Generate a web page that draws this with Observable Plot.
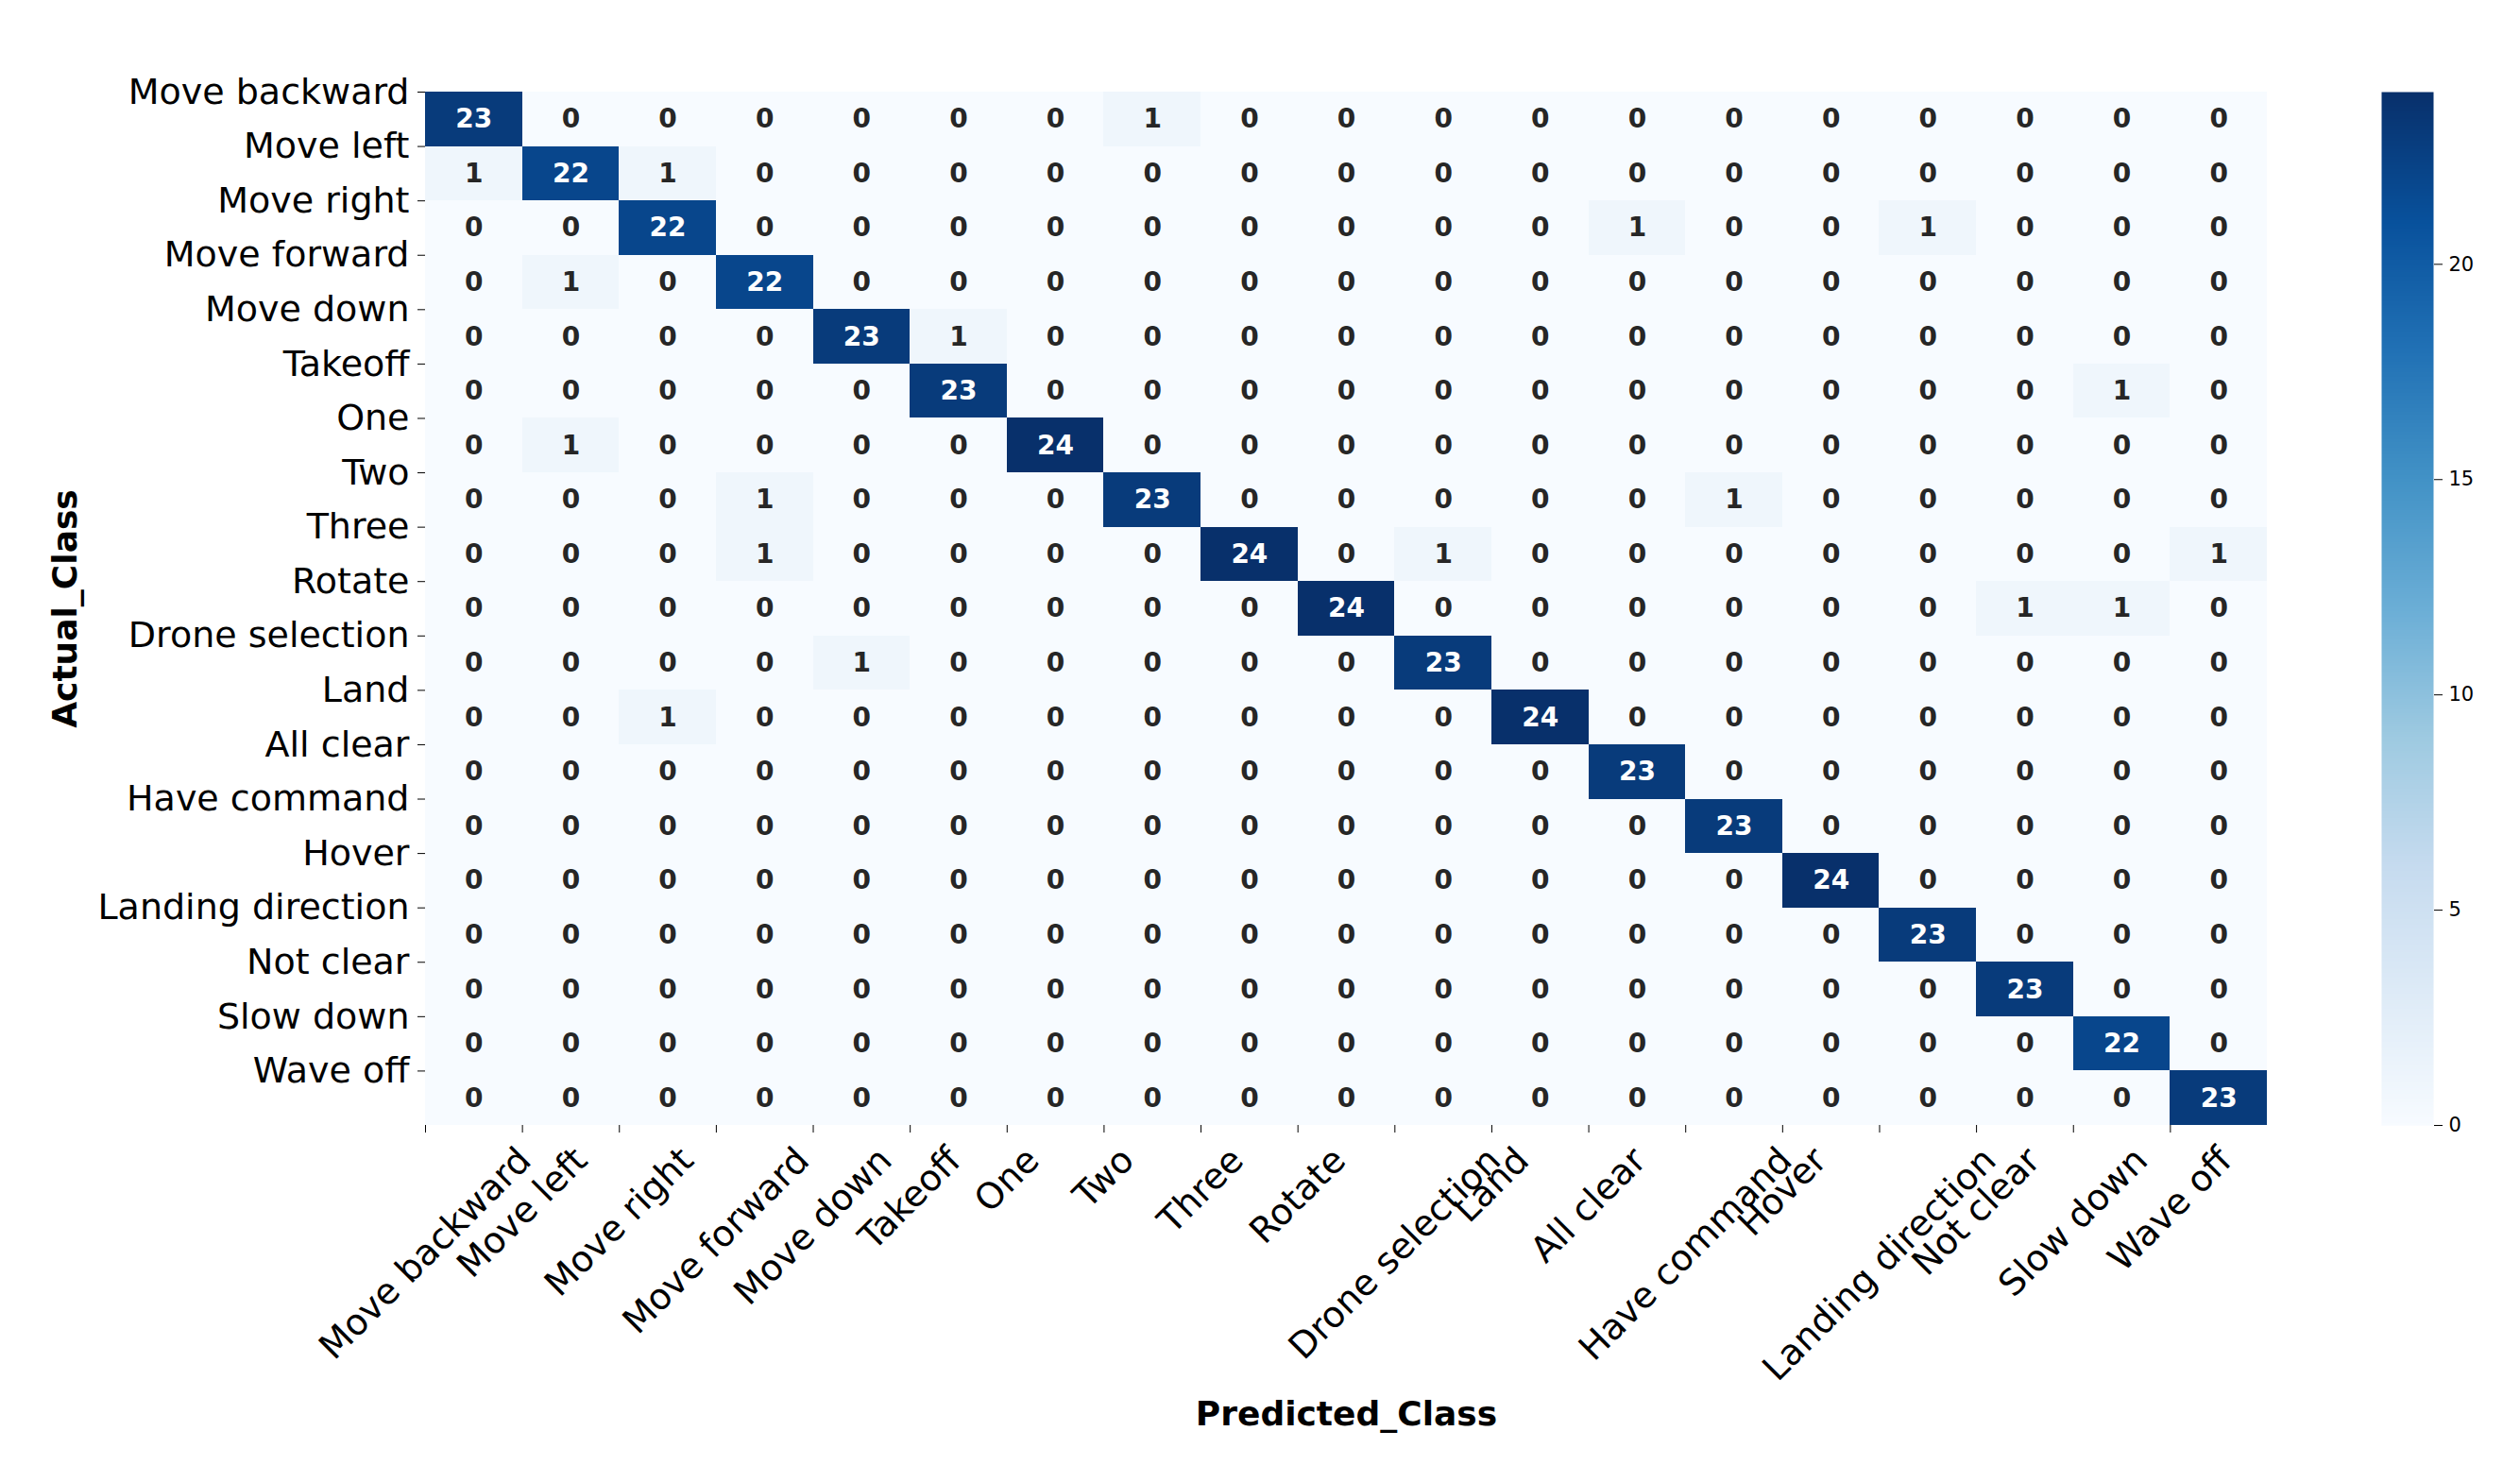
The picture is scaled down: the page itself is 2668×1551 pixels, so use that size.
<!DOCTYPE html>
<html><head><meta charset="utf-8">
<script src="https://cdn.jsdelivr.net/npm/d3@7"></script>
<script src="https://cdn.jsdelivr.net/npm/@observablehq/plot@0.6"></script>
<style>
body{margin:0;background:#fff;}
#wrap{position:relative;width:2668px;height:1551px;font-family:"DejaVu Sans";background:#fff;}
#wrap svg{position:absolute;top:0;}
</style>
</head><body><div id="wrap"></div>
<script>
const classes = ["Move backward","Move left","Move right","Move forward","Move down","Takeoff","One","Two","Three","Rotate","Drone selection","Land","All clear","Have command","Hover","Landing direction","Not clear","Slow down","Wave off"];

const matrix = [
  [23,0,0,0,0,0,0,1,0,0,0,0,0,0,0,0,0,0,0],
  [1,22,1,0,0,0,0,0,0,0,0,0,0,0,0,0,0,0,0],
  [0,0,22,0,0,0,0,0,0,0,0,0,1,0,0,1,0,0,0],
  [0,1,0,22,0,0,0,0,0,0,0,0,0,0,0,0,0,0,0],
  [0,0,0,0,23,1,0,0,0,0,0,0,0,0,0,0,0,0,0],
  [0,0,0,0,0,23,0,0,0,0,0,0,0,0,0,0,0,1,0],
  [0,1,0,0,0,0,24,0,0,0,0,0,0,0,0,0,0,0,0],
  [0,0,0,1,0,0,0,23,0,0,0,0,0,1,0,0,0,0,0],
  [0,0,0,1,0,0,0,0,24,0,1,0,0,0,0,0,0,0,1],
  [0,0,0,0,0,0,0,0,0,24,0,0,0,0,0,0,1,1,0],
  [0,0,0,0,1,0,0,0,0,0,23,0,0,0,0,0,0,0,0],
  [0,0,1,0,0,0,0,0,0,0,0,24,0,0,0,0,0,0,0],
  [0,0,0,0,0,0,0,0,0,0,0,0,23,0,0,0,0,0,0],
  [0,0,0,0,0,0,0,0,0,0,0,0,0,23,0,0,0,0,0],
  [0,0,0,0,0,0,0,0,0,0,0,0,0,0,24,0,0,0,0],
  [0,0,0,0,0,0,0,0,0,0,0,0,0,0,0,23,0,0,0],
  [0,0,0,0,0,0,0,0,0,0,0,0,0,0,0,0,23,0,0],
  [0,0,0,0,0,0,0,0,0,0,0,0,0,0,0,0,0,22,0],
  [0,0,0,0,0,0,0,0,0,0,0,0,0,0,0,0,0,0,23]
];

const colorbarTicks = [0, 5, 10, 15, 20];
const colorMax = 24;
const blues9 = ["#f7fbff","#deebf7","#c6dbef","#9ecae1","#6baed6","#4292c6","#2171b5","#08519c","#08306b"];

const W = 2668, H = 1551, mL = 450, mR = 268, mT = 97, mB = 360;
const n = classes.length;
const cells = matrix.flatMap((r, i) => r.map((v, j) => ({row: i, col: j, value: v})));
const colorScale = {type: "linear", domain: blues9.map((_, i) => i * colorMax / (blues9.length - 1)), range: blues9, interpolate: "rgb"};
const font = "DejaVu Sans";

const ctx = document.createElement("canvas").getContext("2d");
ctx.font = `38px "${font}"`;
const xLabelMarks = classes.map((c, i) => Plot.text([i], {
  x: d => d, frameAnchor: "bottom", text: () => c, rotate: -45,
  textAnchor: "middle", lineAnchor: "middle", fontSize: 38, fill: "black",
  dy: 15 + 0.3536 * (ctx.measureText(c).width + 44)
}));

const main = Plot.plot({
  width: W, height: H, marginLeft: mL, marginRight: mR, marginTop: mT, marginBottom: mB,
  x: {domain: [0, n]}, y: {domain: [0, n], reverse: true},
  color: colorScale,
  style: {fontFamily: font, color: "black", background: "white", overflow: "visible"},
  marks: [
    Plot.rect(cells, {x1: "col", x2: d => d.col + 1, y1: "row", y2: d => d.row + 1, fill: "value", shapeRendering: "crispEdges"}),
    Plot.text(cells, {filter: d => d.value <= 12, x: d => d.col + 0.5, y: d => d.row + 0.5, text: d => String(d.value), fill: "#262626", fontSize: 28, fontWeight: "bold", lineAnchor: "middle"}),
    Plot.text(cells, {filter: d => d.value > 12, x: d => d.col + 0.5, y: d => d.row + 0.5, text: d => String(d.value), fill: "white", fontSize: 28, fontWeight: "bold", lineAnchor: "middle"}),
    Plot.axisY({ticks: d3.range(n), tickFormat: i => classes[i], tickSize: 8, tickPadding: 9, fontSize: 38, label: null}),
    Plot.axisX({ticks: d3.range(n), tickSize: 8, tickFormat: () => "", label: null}),
    ...xLabelMarks,
    Plot.text(["Actual_Class"], {text: d => d, frameAnchor: "left", rotate: -90, dx: 69 - mL, fontSize: 36, fontWeight: "bold", fill: "black", textAnchor: "middle", lineAnchor: "middle"}),
    Plot.text(["Predicted_Class"], {text: d => d, frameAnchor: "bottom", dy: 306, fontSize: 36, fontWeight: "bold", fill: "black", textAnchor: "middle", lineAnchor: "middle"})
  ]
});
main.style.left = "0px";

const cbar = Plot.plot({
  width: 147, height: H, marginLeft: 0, marginRight: 92, marginTop: mT, marginBottom: mB,
  x: {domain: [0, 1], axis: null}, y: {domain: [0, colorMax]},
  color: colorScale,
  style: {fontFamily: font, color: "black", background: "transparent"},
  marks: [
    Plot.raster({fill: (x, y) => y, x1: 0, x2: 1, y1: 0, y2: colorMax, width: 4, height: 600}),
    Plot.axisY({anchor: "right", ticks: colorbarTicks, tickSize: 9, tickPadding: 7, fontSize: 21, label: null})
  ]
});
cbar.style.left = "2521px";

const wrap = document.getElementById("wrap");
wrap.appendChild(main);
wrap.appendChild(cbar);
</script>
</body></html>
